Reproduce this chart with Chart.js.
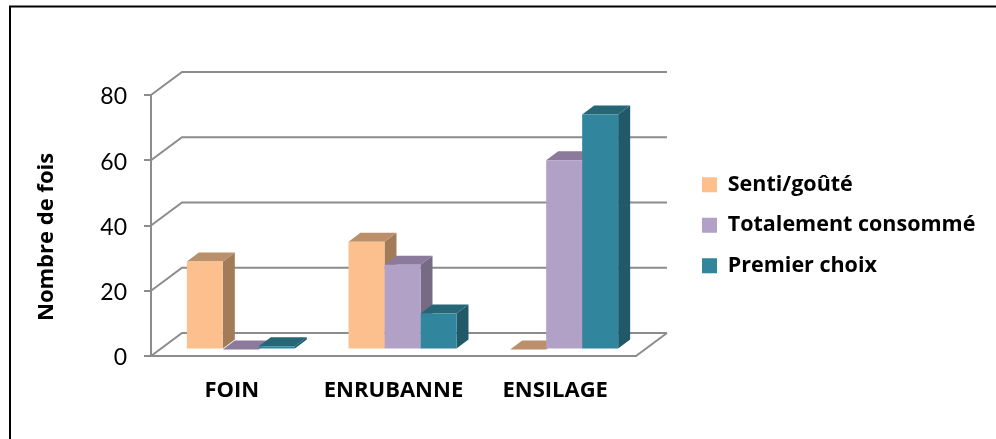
<!DOCTYPE html>
<html>
<head>
<meta charset="utf-8">
<style>
html, body { margin: 0; padding: 0; background: #fff; }
canvas { display: block; }
</style>
<script src="https://cdn.jsdelivr.net/npm/chart.js@4"></script>
</head>
<body>
<canvas id="myChart" width="996" height="439"></canvas>
<script>
// values
var categories = ["FOIN", "ENRUBANNE", "ENSILAGE"];
var sentiGoute = [27, 33, 0];
var totalementConsomme = [0, 26, 58];
var premierChoix = [1, 11, 72];

var seriesNames = ["Senti/goûté", "Totalement consommé", "Premier choix"];
var yTicks = [0, 20, 40, 60, 80];

var frontColors = ["#FBC08D", "#B2A1C7", "#31859C"];
var topColors = ["#BC8F6B", "#8B7A9C", "#266676"];
var sideColors = ["#A27C58", "#766A84", "#215968"];

var gridColor = "#8C8C8C";
var fontName = "'Open Sans', Lato, sans-serif";

// 3D look: wall depth and bar depth in pixels
var wallDepth = { x: 31, y: -23 };
var barDepth = { x: 12, y: -9 };
var barShift = { x: 9, y: -6.5 };

function poly(ctx, pts, color) {
  ctx.fillStyle = color;
  ctx.beginPath();
  ctx.moveTo(pts[0][0], pts[0][1]);
  for (var i = 1; i < pts.length; i++) ctx.lineTo(pts[i][0], pts[i][1]);
  ctx.closePath();
  ctx.fill();
}

var frame3d = {
  id: "frame3d",
  afterLayout: function (chart) {
    // put the legend where it sits in the reference
    var l = chart.legend;
    var w = l.width, h = l.height;
    l.left = 683; l.top = 155;
    l.right = l.left + w; l.bottom = l.top + h;
    l.adjustHitBoxes();
  },
  beforeDraw: function (chart) {
    var ctx = chart.ctx;
    ctx.save();
    ctx.fillStyle = "#fff";
    ctx.fillRect(0, 0, chart.width, chart.height);
    ctx.strokeStyle = "#000";
    ctx.lineWidth = 2;
    ctx.beginPath();
    ctx.moveTo(10, 439);
    ctx.lineTo(10, 6.5);
    ctx.lineTo(996, 6.5);
    ctx.stroke();
    ctx.restore();

    // digits sit a little low on their ticks in the reference
    chart.scales.y.getLabelItems().forEach(function (item) {
      item.options.translation[1] += 2;
    });
  },
  beforeDatasetsDraw: function (chart) {
    // back wall and floor
    var ctx = chart.ctx, a = chart.chartArea, y = chart.scales.y;
    ctx.save();
    ctx.strokeStyle = gridColor;
    ctx.lineWidth = 2;
    yTicks.forEach(function (t) {
      var py = y.getPixelForValue(t);
      ctx.beginPath();
      ctx.moveTo(a.left, py);
      ctx.lineTo(a.left + wallDepth.x, py + wallDepth.y);
      ctx.lineTo(a.right + wallDepth.x, py + wallDepth.y);
      ctx.stroke();
    });
    var base = y.getPixelForValue(0);
    ctx.beginPath();
    ctx.moveTo(a.right, base);
    ctx.lineTo(a.right + wallDepth.x, base + wallDepth.y);
    ctx.stroke();
    ctx.restore();

    // side and top faces of the bars, series by series, fronts come after
    ctx.save();
    ctx.translate(barShift.x, barShift.y);
    chart.data.datasets.forEach(function (ds, i) {
      chart.getDatasetMeta(i).data.forEach(function (bar) {
        var p = bar.getProps(["x", "y", "width", "base"], true);
        var l = p.x - p.width / 2, r = p.x + p.width / 2;
        var dx = barDepth.x, dy = barDepth.y;
        poly(ctx, [[r, p.y], [r + dx, p.y + dy], [r + dx, p.base + dy], [r, p.base]], sideColors[i]);
        poly(ctx, [[l, p.y], [l + dx, p.y + dy], [r + dx, p.y + dy], [r, p.y]], topColors[i]);
      });
    });
  },
  afterDatasetsDraw: function (chart) {
    chart.ctx.restore();
  }
};

new Chart("myChart", {
  type: "bar",
  data: {
    labels: categories,
    datasets: [
      { label: seriesNames[0], data: sentiGoute, backgroundColor: frontColors[0] },
      { label: seriesNames[1], data: totalementConsomme, backgroundColor: frontColors[1] },
      { label: seriesNames[2], data: premierChoix, backgroundColor: frontColors[2] }
    ]
  },
  options: {
    responsive: false,
    animation: false,
    layout: { autoPadding: false, padding: { left: 34, right: 360, top: 95, bottom: 13 } },
    categoryPercentage: 0.668,
    barPercentage: 1,
    plugins: {
      tooltip: { enabled: false },
      title: { display: false },
      legend: {
        position: "chartArea",
        align: "start",
        labels: {
          boxWidth: 15,
          boxHeight: 15,
          padding: 19,
          color: "#000",
          font: { family: fontName, size: 21.5, weight: "bold" }
        }
      }
    },
    scales: {
      x: {
        afterFit: function (s) { s.height = 70; },
        grid: { display: false, drawTicks: false },
        border: { color: gridColor, width: 2 },
        ticks: { color: "#000", padding: 22, maxRotation: 0, font: { family: fontName, size: 22, weight: "bold" } }
      },
      y: {
        min: 0,
        max: 80,
        afterFit: function (s) { s.width = 117; },
        grid: { drawOnChartArea: false, color: gridColor, lineWidth: 2, tickLength: 7 },
        border: { color: gridColor, width: 2 },
        title: {
          display: true,
          text: "Nombre de fois    ",
          color: "#000",
          padding: 0,
          font: { family: fontName, size: 22, weight: "bold" }
        },
        ticks: {
          stepSize: 20,
          color: "#000",
          padding: 17,
          font: { family: "Lato, 'Open Sans', sans-serif", size: 23 }
        }
      }
    }
  },
  plugins: [frame3d]
});
</script>
</body>
</html>
